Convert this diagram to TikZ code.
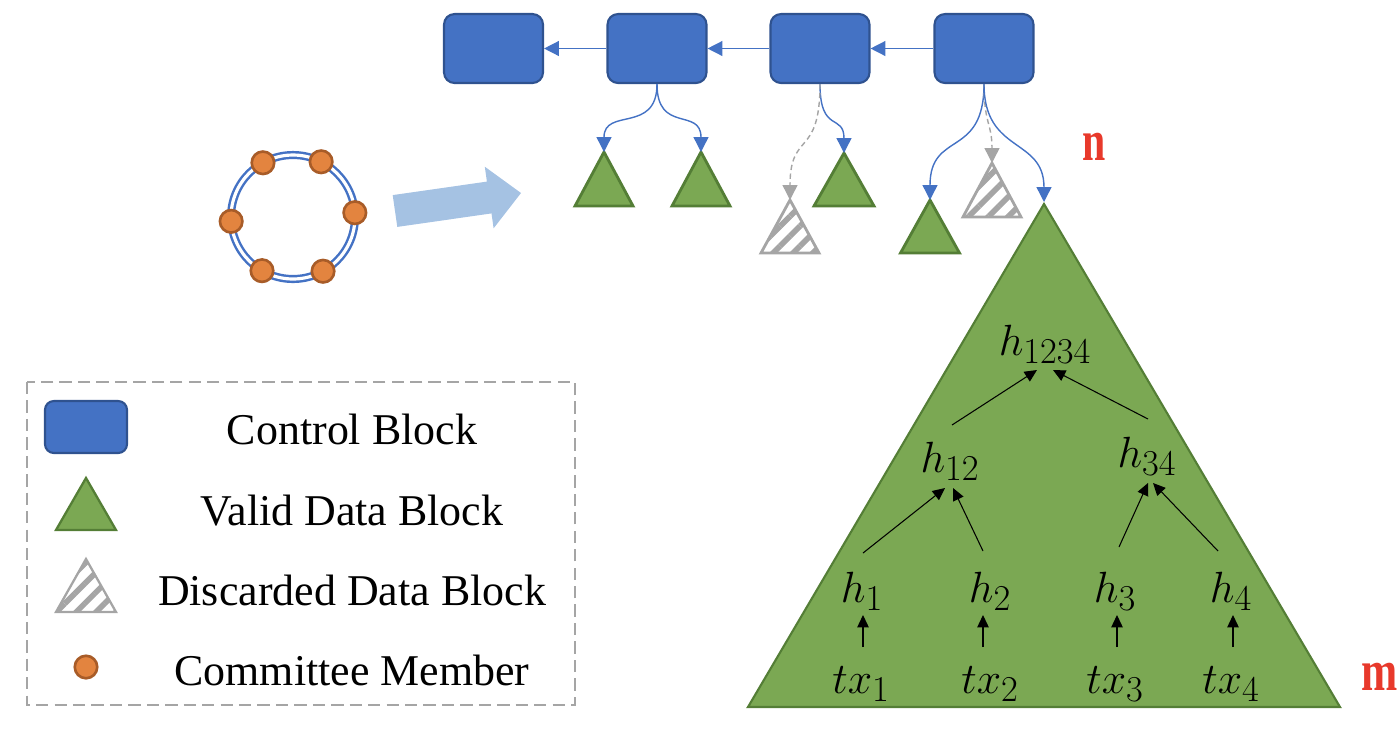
\documentclass[tikz,border=0pt]{standalone}
\usepackage{fontspec}
\setmainfont{Liberation Serif}
\DeclareMathSizes{28}{28}{20}{15}
\usetikzlibrary{arrows.meta,calc,patterns.meta}
\definecolor{cbfill}{HTML}{4472C4}
\definecolor{cbdraw}{HTML}{2F528F}
\definecolor{gfill}{HTML}{7BA853}
\definecolor{gdraw}{HTML}{547E36}
\definecolor{dgray}{HTML}{A5A5A5}
\definecolor{ofill}{HTML}{E3843F}
\definecolor{obrd}{HTML}{A85C28}
\definecolor{lblue}{HTML}{A5C2E3}
\definecolor{redlab}{HTML}{E8392B}
\begin{document}
\begin{tikzpicture}[x=0.02cm,y=-0.02cm,
  cblock/.style={draw=cbdraw, fill=cbfill, line width=1.2pt, rounded corners=6pt, minimum width=1.98cm, minimum height=1.38cm, inner sep=0pt},
  gtri/.style={draw=gdraw, fill=gfill, line width=1.6pt, line join=miter},
  dtri/.style={draw=dgray, line width=1.6pt, pattern={Lines[angle=45,distance=8pt,line width=3.2pt]}, pattern color=dgray},
  link/.style={draw=cbfill, line width=0.8pt, -{Triangle[width=8.5pt,length=8.5pt]}},
  dlink/.style={draw=dgray, line width=0.8pt, dash pattern=on 3pt off 2pt, -{Triangle[width=8.5pt,length=8.5pt]}},
  tarrow/.style={draw=black, line width=0.6pt, -{Triangle[width=6.5pt,length=7pt]}},
  member/.style={circle, draw=obrd, fill=ofill, line width=1.5pt, minimum size=0.45cm, inner sep=0pt},
  legtext/.style={anchor=base, font=\fontsize{25}{30}\selectfont, inner sep=0pt},
  mlabel/.style={anchor=base, font=\fontsize{28}{33}\selectfont, inner sep=0pt},
  redtext/.style={anchor=base, text=redlab, font=\fontsize{33}{36}\selectfont\bfseries, inner sep=0pt}
]
\useasboundingbox (0,0) rectangle (1400,728);

% control chain
\node[cblock] (c1) at (493.5,48.5) {};
\node[cblock] (c2) at (657,48.5) {};
\node[cblock] (c3) at (820,48.5) {};
\node[cblock] (c4) at (984,48.5) {};
\draw[link] (c2.west) -- (c1.east);
\draw[link] (c3.west) -- (c2.east);
\draw[link] (c4.west) -- (c3.east);

% data blocks
\coordinate (g1) at (604,152);
\coordinate (g2) at (701,152);
\coordinate (g3) at (844,153);
\coordinate (g4) at (930,200);
\coordinate (d1) at (790,200);
\coordinate (d2) at (992,163);
\coordinate (big) at (1044,204);
\draw[gtri] (g1) -- ++(29,54) -- ++(-58,0) -- cycle;
\draw[gtri] (g2) -- ++(29,54) -- ++(-58,0) -- cycle;
\draw[gtri] (g3) -- ++(30,53) -- ++(-60,0) -- cycle;
\draw[gtri] (g4) -- ++(29.5,53) -- ++(-59,0) -- cycle;
\draw[dtri] (d1) -- ++(29,53) -- ++(-58,0) -- cycle;
\draw[dtri] (d2) -- ++(29,54) -- ++(-58,0) -- cycle;
\draw[draw=gdraw, fill=gfill, line width=1.2pt] (big) -- (1340,707) -- (748,707) -- cycle;

% connectors from control blocks
\draw[link] (c2.south) .. controls +(0,50) and +(0,-45) .. (g1);
\draw[link] (c2.south) .. controls +(0,50) and +(0,-45) .. (g2);
\draw[link] (c3.south) .. controls +(0,50) and +(0,-40) .. (g3);
\draw[dlink] (c3.south) .. controls +(0,75) and +(0,-70) .. (d1);
\draw[link] (c4.south) .. controls +(0,75) and +(0,-70) .. (g4);
\draw[dlink] (c4.south) .. controls +(0,40) and +(0,-40) .. (d2);
\draw[link] (c4.south) .. controls +(0,70) and +(0,-65) .. ($(big)+(0,-2)$);

% committee ring
\node[circle, draw=cbfill, double=white, line width=1.4pt, double distance=1.8pt, minimum size=2.48cm, inner sep=0pt, outer sep=0pt] (ring) at (293,217) {};
\node[member] (m1) at (ring.119) {};
\node[member] (m2) at (ring.63) {};
\node[member] (m3) at (ring.184) {};
\node[member] (m4) at (ring.4) {};
\node[member] (m5) at (ring.240) {};
\node[member] (m6) at (ring.299) {};

% big arrow
\fill[lblue] (392.7,195.1) -- (486.9,181.6) -- (484.8,166.7) -- (521,193) -- (493.6,228.3) -- (491.5,213.4) -- (397.3,226.9) -- cycle;

% red labels
\node[redtext] (nlab) at (1094,160) {\scalebox{0.72}[1]{n}};
\node[redtext] (mlab) at (1380,690) {\scalebox{0.75}[1]{m}};

% merkle tree labels
\node[mlabel] (h1234) at (1045,355) {$h_{1234}$};
\node[mlabel] (h12) at (950,472) {$h_{12}$};
\node[mlabel] (h34) at (1147,467) {$h_{34}$};
\node[mlabel] (h1) at (862,602) {$h_{1}$};
\node[mlabel] (h2) at (990,602) {$h_{2}$};
\node[mlabel] (h3) at (1115,602) {$h_{3}$};
\node[mlabel] (h4) at (1231,602) {$h_{4}$};
\node[mlabel] (tx1) at (861,693) {$tx_{1}$};
\node[mlabel] (tx2) at (990,693) {$tx_{2}$};
\node[mlabel] (tx3) at (1115,693) {$tx_{3}$};
\node[mlabel] (tx4) at (1231,693) {$tx_{4}$};

\draw[tarrow] ($(h1.base)+(1,-49)$) -- ($(h12.base)+(-5,16)$);
\draw[tarrow] ($(h2.base)+(-7,-51)$) -- ($(h12.base)+(3,16)$);
\draw[tarrow] ($(h3.base)+(4,-55)$) -- ($(h34.base)+(1,16)$);
\draw[tarrow] ($(h4.base)+(-13,-51)$) -- ($(h34.base)+(6,16)$);
\draw[tarrow] ($(h12.base)+(2,-47)$) -- ($(h1234.base)+(-8,15)$);
\draw[tarrow] ($(h34.base)+(1,-48)$) -- ($(h1234.base)+(8,15)$);
\draw[tarrow] ($(tx1.base)+(2,-46)$) -- ($(h1.base)+(1,13)$);
\draw[tarrow] ($(tx2.base)+(-7,-46)$) -- ($(h2.base)+(-7,13)$);
\draw[tarrow] ($(tx3.base)+(2,-46)$) -- ($(h3.base)+(2,13)$);
\draw[tarrow] ($(tx4.base)+(2,-46)$) -- ($(h4.base)+(2,13)$);

% legend
\draw[dgray, line width=1.3pt, dash pattern=on 7pt off 3.5pt] (27,382) rectangle (575,705);
\node[cblock, minimum width=1.64cm, minimum height=1.04cm, rounded corners=5pt] (lcb) at (86,427) {};
\coordinate (lg) at (86,478);
\draw[gtri, line width=1.3pt] (lg) -- ++(30,52) -- ++(-60,0) -- cycle;
\coordinate (ld) at (86,559);
\draw[dtri, line width=1.3pt] (ld) -- ++(30,53) -- ++(-60,0) -- cycle;
\node[member] (lm) at (86,667) {};
\node[legtext] (l1) at (352,444) {Control Block};
\node[legtext] (l2) at (352,525) {Valid Data Block};
\node[legtext] (l3) at (352,605) {Discarded Data Block};
\node[legtext] (l4) at (352,685) {Committee Member};
\end{tikzpicture}
\end{document}
